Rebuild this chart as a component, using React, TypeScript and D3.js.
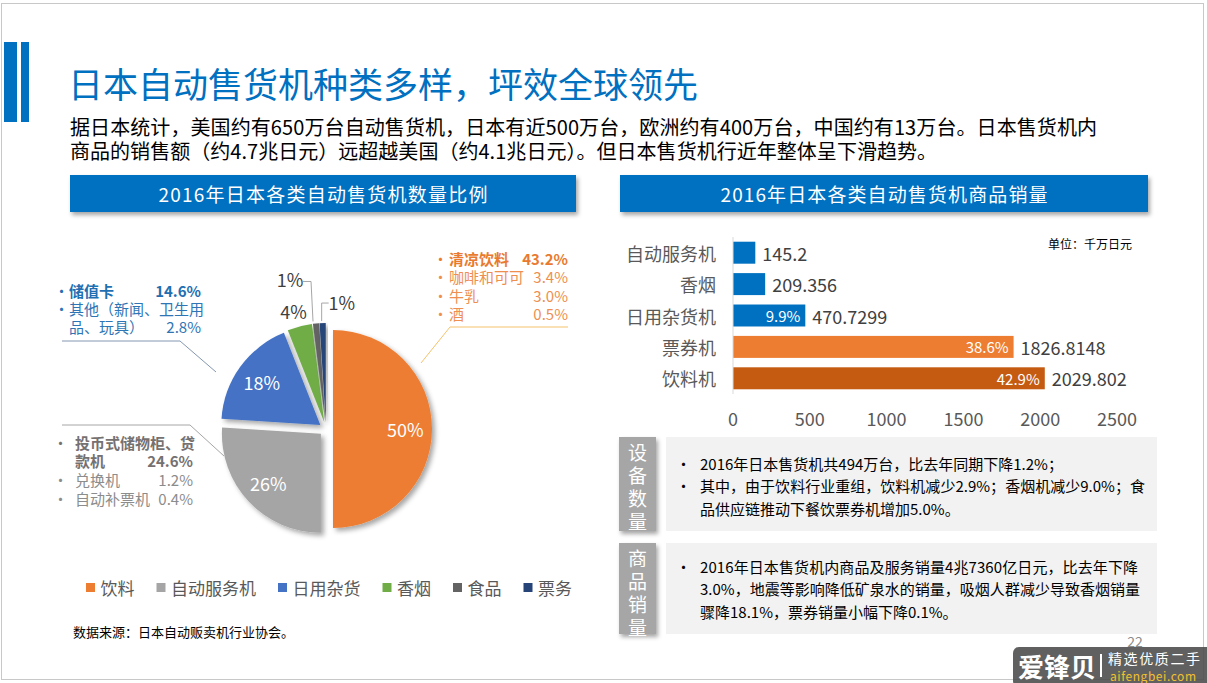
import React from "react";
import * as d3 from "d3";

// ---------- data ----------
const pieCategories = ["饮料", "自动服务机", "日用杂货", "香烟", "食品", "票务"];
const pieValues = [50, 26, 18, 4, 1, 1];
const pieColors = ["#ED7D31", "#A5A5A5", "#4472C4", "#70AD47", "#636363", "#264478"];

const barCategories = ["自动服务机", "香烟", "日用杂货机", "票券机", "饮料机"];
const barValues = [145.2, 209.356, 470.7299, 1826.8148, 2029.802];
const barValueLabels = ["145.2", "209.356", "470.7299", "1826.8148", "2029.802"];
const barShares = ["", "", "9.9%", "38.6%", "42.9%"];
const barColors = ["#0070C0", "#0070C0", "#0070C0", "#ED7D31", "#C55A11"];
const xTicks = [0, 500, 1000, 1500, 2000, 2500];

const orangeCallout = [
  { name: "清凉饮料", pct: "43.2%", bold: true },
  { name: "咖啡和可可", pct: "3.4%", bold: false },
  { name: "牛乳", pct: "3.0%", bold: false },
  { name: "酒", pct: "0.5%", bold: false },
];
const blueCallout = [
  { name: "储值卡", pct: "14.6%", bold: true, bullet: true },
  { name: "其他（新闻、卫生用", pct: "", bold: false, bullet: true },
  { name: "品、玩具）", pct: "2.8%", bold: false, bullet: false },
];
const grayCallout = [
  { name: "投币式储物柜、贷", pct: "", bold: true, bullet: true },
  { name: "款机", pct: "24.6%", bold: true, bullet: false },
  { name: "兑换机", pct: "1.2%", bold: false, bullet: true },
  { name: "自动补票机", pct: "0.4%", bold: false, bullet: true },
];

const titleText = "日本自动售货机种类多样，坪效全球领先";
const introLines = [
  "据日本统计，美国约有650万台自动售货机，日本有近500万台，欧洲约有400万台，中国约有13万台。日本售货机内",
  "商品的销售额（约4.7兆日元）远超越美国（约4.1兆日元）。但日本售货机行近年整体呈下滑趋势。",
];
const box1Lines = [
  { t: "2016年日本售货机共494万台，比去年同期下降1.2%；", bullet: true, len: 0 },
  { t: "其中，由于饮料行业重组，饮料机减少2.9%；香烟机减少9.0%；食", bullet: true, len: 445 },
  { t: "品供应链推动下餐饮票券机增加5.0%。", bullet: false, len: 0 },
];
const box2Lines = [
  { t: "2016年日本售货机内商品及服务销量4兆7360亿日元，比去年下降", bullet: true, len: 438 },
  { t: "3.0%，地震等影响降低矿泉水的销量，吸烟人群减少导致香烟销量", bullet: false, len: 440 },
  { t: "骤降18.1%，票券销量小幅下降0.1%。", bullet: false, len: 0 },
];

const FONT = "'Noto Sans CJK SC', 'Noto Sans', sans-serif";

export default function App() {
  const W = 1207;
  const H = 683;

  // pie
  const cx = 326, cy = 429, R = 99, E = 7;
  const pie = d3.pie<number>().sort(null).value((d) => d).startAngle(0).endAngle(2 * Math.PI);
  const arcs = pie(pieValues);
  const arcGen = d3.arc<d3.PieArcDatum<number>>().innerRadius(0).outerRadius(R);
  const labelArc = d3.arc<d3.PieArcDatum<number>>().innerRadius(R * 0.73).outerRadius(R * 0.73);
  const outArc = d3.arc<d3.PieArcDatum<number>>().innerRadius(R * 1.24).outerRadius(R * 1.24);
  const edgeArc = d3.arc<d3.PieArcDatum<number>>().innerRadius(R).outerRadius(R);

  // bars
  const x = d3.scaleLinear().domain([0, 2500]).range([733, 1117]);
  const y = d3.scaleBand<string>().domain(barCategories).range([237, 394]).paddingInner(0.3).paddingOuter(0.15);

  // legend layout
  let lx = 86;
  const legendItems = pieCategories.map((c, i) => {
    const item = { c, i, x: lx };
    lx += 14.5 + c.length * 17 + 22;
    return item;
  });

  return (
    <svg width={W} height={H} fontFamily={FONT} style={{ position: "absolute", left: 0, top: 0, fontFamily: FONT }}>
      <defs>
        <filter id="sh" x="-20%" y="-20%" width="150%" height="160%">
          <feDropShadow dx="2" dy="3" stdDeviation="2" floodColor="#000" floodOpacity="0.35" />
        </filter>
        <filter id="shp" x="-20%" y="-20%" width="150%" height="150%">
          <feDropShadow dx="3" dy="3" stdDeviation="2.5" floodColor="#000" floodOpacity="0.35" />
        </filter>
      </defs>
      <rect x={0} y={0} width={W} height={H} fill="#fff" />
      <rect x={1.5} y={3.5} width={1202} height={676} fill="#fff" stroke="#c8c8c8" />

      {/* accent bars */}
      <rect x={4} y={42} width={13} height={80} fill="#0070C0" />
      <rect x={21} y={42} width={8} height={80} fill="#0070C0" />

      {/* title */}
      <text x={68} y={82} fontSize={35} fill="#0070C0" dominantBaseline="central">{titleText}</text>
      {introLines.map((l, i) => (
        <text key={i} x={70} y={126 + i * 24} fontSize={20} fill="#000" dominantBaseline="central"
          textLength={i === 0 ? 1027 : 867} lengthAdjust="spacing">{l}</text>
      ))}

      {/* section headers */}
      <rect x={70} y={175} width={506} height={37} fill="#0070C0" filter="url(#sh)" />
      <text x={323} y={193.5} fontSize={19} fill="#fff" textAnchor="middle" dominantBaseline="central"
        fontFamily={FONT} textLength={329} lengthAdjust="spacing">2016年日本各类自动售货机数量比例</text>
      <rect x={620} y={175} width={528} height={37} fill="#0070C0" filter="url(#sh)" />
      <text x={884} y={193.5} fontSize={19} fill="#fff" textAnchor="middle" dominantBaseline="central"
        fontFamily={FONT} textLength={327} lengthAdjust="spacing">2016年日本各类自动售货机商品销量</text>

      {/* pie */}
      <g>
        {arcs.map((a, i) => {
          const mid = (a.startAngle + a.endAngle) / 2;
          const dx = Math.sin(mid) * E, dy = -Math.cos(mid) * E;
          return (
            <path key={i} d={arcGen(a) as string} transform={`translate(${cx + dx},${cy + dy})`}
              fill={pieColors[i]} filter="url(#shp)" />
          );
        })}
        {arcs.map((a, i) => {
          const mid = (a.startAngle + a.endAngle) / 2;
          const dx = Math.sin(mid) * E, dy = -Math.cos(mid) * E;
          if (pieValues[i] >= 10) {
            const [lx2, ly2] = labelArc.centroid(a);
            return (
              <text key={i} x={cx + dx + lx2} y={cy + dy + ly2} fontSize={18} fill="#fff"
                textAnchor="middle" dominantBaseline="central">{pieValues[i]}%</text>
            );
          }
          if (pieValues[i] >= 3) {
            const [ox, oy] = outArc.centroid(a);
            return (
              <text key={i} x={cx + ox - 2} y={cy + oy + 1} fontSize={18} fill="#404040"
                textAnchor="middle" dominantBaseline="central">{pieValues[i]}%</text>
            );
          }
          const [ex, ey] = edgeArc.centroid(a);
          const px = cx + dx + ex, py = cy + dy + ey - 2;
          const left = pieCategories[i] === "食品";
          const tx = left ? px - 26 : px + 19;
          const ty = left ? py - 42 : py - 19;
          const pts = left
            ? [[tx + 13, ty + 2], [px - 5, ty + 2], [px - 3, py]]
            : [[tx - 13, ty + 1], [px - 1, ty + 1], [px - 1, py]];
          return (
            <g key={i}>
              <polyline points={pts.map((p) => p.join(",")).join(" ")} fill="none" stroke="#a6a6a6" strokeWidth={1} />
              <text x={tx} y={ty} fontSize={18} fill="#404040" textAnchor="middle" dominantBaseline="central">{pieValues[i]}%</text>
            </g>
          );
        })}
      </g>

      {/* callouts */}
      <polyline points="568,327 450,327 421,363" fill="none" stroke="#F5C26B" strokeWidth={1} />
      {orangeCallout.map((d, i) => (
        <g key={i} fontSize={15} fill={d.bold ? "#E97A2E" : "#EE8F4F"} fontWeight={d.bold ? 700 : 400}>
          <text x={433} y={258 + i * 18.5} dominantBaseline="central" fontWeight={400}>•</text>
          <text x={449} y={258 + i * 18.5} dominantBaseline="central">{d.name}</text>
          <text x={568} y={258 + i * 18.5} textAnchor="end" dominantBaseline="central">{d.pct}</text>
        </g>
      ))}

      <polyline points="62,341 180,341 216,372" fill="none" stroke="#8497B0" strokeWidth={1} />
      {blueCallout.map((d, i) => (
        <g key={i} fontSize={15} fill={d.bold ? "#1F6FB2" : "#2E75B6"} fontWeight={d.bold ? 700 : 400}>
          {d.bullet && <text x={54} y={290 + i * 18} dominantBaseline="central" fontWeight={400}>•</text>}
          <text x={69} y={290 + i * 18} dominantBaseline="central">{d.name}</text>
          {d.pct && <text x={201} y={290 + i * 18} textAnchor="end" dominantBaseline="central">{d.pct}</text>}
        </g>
      ))}

      <polyline points="62,425 190,425 224,456" fill="none" stroke="#A6A6A6" strokeWidth={1} />
      {grayCallout.map((d, i) => (
        <g key={i} fontSize={15} fill={d.bold ? "#767171" : "#8C8C8C"} fontWeight={d.bold ? 700 : 400}>
          {d.bullet && <text x={53} y={442 + i * 18.7} dominantBaseline="central" fontWeight={400}>•</text>}
          <text x={75} y={442 + i * 18.7} dominantBaseline="central">{d.name}</text>
          {d.pct && <text x={193} y={442 + i * 18.7} textAnchor="end" dominantBaseline="central">{d.pct}</text>}
        </g>
      ))}

      {/* legend */}
      {legendItems.map((it) => (
        <g key={it.c}>
          <rect x={it.x} y={583} width={9} height={9} fill={pieColors[it.i]} />
          <text x={it.x + 14.5} y={587} fontSize={17} fill="#595959" dominantBaseline="central">{it.c}</text>
        </g>
      ))}

      <text x={73} y={631} fontSize={13} fill="#000" dominantBaseline="central">数据来源：日本自动贩卖机行业协会。</text>

      {/* bar chart */}
      <text x={1048} y={243} fontSize={12} fill="#000" dominantBaseline="central">单位：千万日元</text>
      {barCategories.map((c, i) => {
        const yy = y(c)!;
        const bw = y.bandwidth();
        const xe = x(barValues[i]);
        return (
          <g key={c}>
            <rect x={x(0)} y={yy} width={xe - x(0)} height={bw} fill={barColors[i]} />
            <text x={716} y={yy + bw / 2} fontSize={18} fill="#595959" textAnchor="end" dominantBaseline="central">{c}</text>
            <text x={xe + 7} y={yy + bw / 2} fontSize={18} fill="#404040" dominantBaseline="central">{barValueLabels[i]}</text>
            {barShares[i] && (
              <text x={xe - 5} y={yy + bw / 2} fontSize={15} fill="#fff" textAnchor="end" dominantBaseline="central">{barShares[i]}</text>
            )}
          </g>
        );
      })}
      <line x1={x(0)} x2={x(0)} y1={237} y2={394} stroke="#D9D9D9" />
      {xTicks.map((t) => (
        <text key={t} x={x(t)} y={418} fontSize={18} fill="#595959" textAnchor="middle" dominantBaseline="central">{t}</text>
      ))}

      {/* info boxes */}
      <rect x={619} y={437} width={37} height={94} fill="#A6A6A6" filter="url(#sh)" />
      <rect x={666} y={437} width={491} height={94} fill="#F2F2F2" />
      {"设备数量".split("").map((ch, i) => (
        <text key={i} x={637.5} y={451 + i * 23} fontSize={19} fill="#fff" textAnchor="middle" dominantBaseline="central">{ch}</text>
      ))}
      {box1Lines.map((l, i) => (
        <g key={i}>
          {l.bullet && <text x={676} y={463 + i * 22.5} fontSize={15} fill="#000" dominantBaseline="central">•</text>}
          <text x={700} y={463 + i * 22.5} fontSize={15} fill="#000" dominantBaseline="central"
            {...(l.len ? { textLength: l.len, lengthAdjust: "spacing" } : {})}>{l.t}</text>
        </g>
      ))}

      <rect x={619} y={543} width={37} height={91} fill="#A6A6A6" filter="url(#sh)" />
      <rect x={666} y={543} width={491} height={91} fill="#F2F2F2" />
      {"商品销量".split("").map((ch, i) => (
        <text key={i} x={637.5} y={557 + i * 23} fontSize={19} fill="#fff" textAnchor="middle" dominantBaseline="central">{ch}</text>
      ))}
      {box2Lines.map((l, i) => (
        <g key={i}>
          {l.bullet && <text x={676} y={566 + i * 22.5} fontSize={15} fill="#000" dominantBaseline="central">•</text>}
          <text x={700} y={566 + i * 22.5} fontSize={15} fill="#000" dominantBaseline="central"
            {...(l.len ? { textLength: l.len, lengthAdjust: "spacing" } : {})}>{l.t}</text>
        </g>
      ))}

      {/* page number & watermark */}
      <text x={1135} y={641} fontSize={14} fill="#8c8c8c" textAnchor="middle" dominantBaseline="central">22</text>
      <rect x={1013} y={647} width={200} height={40} rx={6} fill="#4a4a4a" fillOpacity={0.88} />
      <text x={1018} y={665} fontSize={26} fontWeight={700} fill="#fff" dominantBaseline="central" textLength={78}>爱锋贝</text>
      <rect x={1100} y={654} width={2} height={23} fill="#fff" />
      <text x={1108} y={658} fontSize={14} fill="#fff" dominantBaseline="central" textLength={92}>精选优质二手</text>
      <text x={1110} y={675} fontSize={12} fill="#F2C12E" dominantBaseline="central" textLength={86}>aifengbei.com</text>
    </svg>
  );
}
